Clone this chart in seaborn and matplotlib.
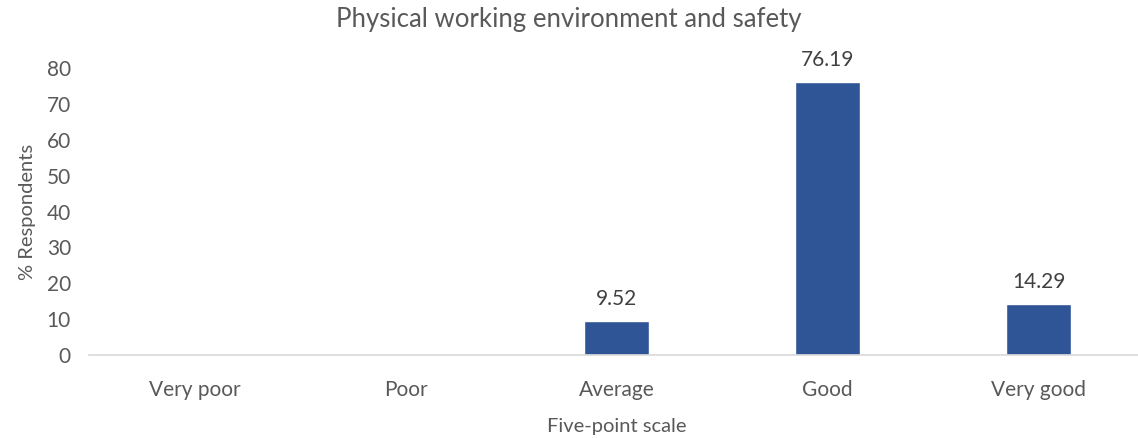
import numpy as np
import pandas as pd
import seaborn as sns
import matplotlib.pyplot as plt

# 数据
categories = ['Very poor', 'Poor', 'Average', 'Good', 'Very good']
percent = [0, 0, 9.52, 76.19, 14.29]
labels = ['', '', '9.52', '76.19', '14.29']

df = pd.DataFrame({'scale': categories, 'pct': percent})

sns.set_style('white')
plt.rcParams['font.family'] = ['Lato', 'DejaVu Sans']

W, H = 1138, 438
fig = plt.figure(figsize=(W / 100, H / 100), dpi=100)
ax = fig.add_axes([89 / W, (H - 355) / H, 1055 / W, 287 / H])

sns.barplot(data=df, x='scale', y='pct', color='#2F5597', width=0.31,
            saturation=1, ax=ax)

ax.set_ylim(0, 80)
ax.set_yticks(np.arange(0, 81, 10))
ax.tick_params(axis='both', length=0, labelsize=15, colors='#595959')
ax.tick_params(axis='x', pad=18)
ax.tick_params(axis='y', pad=13)

for i, (v, t) in enumerate(zip(percent, labels)):
    if t:
        ax.text(i, v + 3.2, t, ha='center', va='bottom', fontsize=15,
                color='#404040', clip_on=False)

sns.despine(ax=ax, left=True, top=True, right=True)
ax.spines['bottom'].set_color('#D9D9D9')
ax.spines['bottom'].set_linewidth(1.2)

ax.set_xlabel('Five-point scale', fontsize=14.5, color='#595959', labelpad=13)
ax.set_ylabel('% Respondents', fontsize=14.5, color='#595959', labelpad=8)
fig.text(0.5, 1 - 20 / H, 'Physical working environment and safety',
         ha='center', va='center', fontsize=18.5, color='#595959')

plt.savefig('out.png', dpi=100)
